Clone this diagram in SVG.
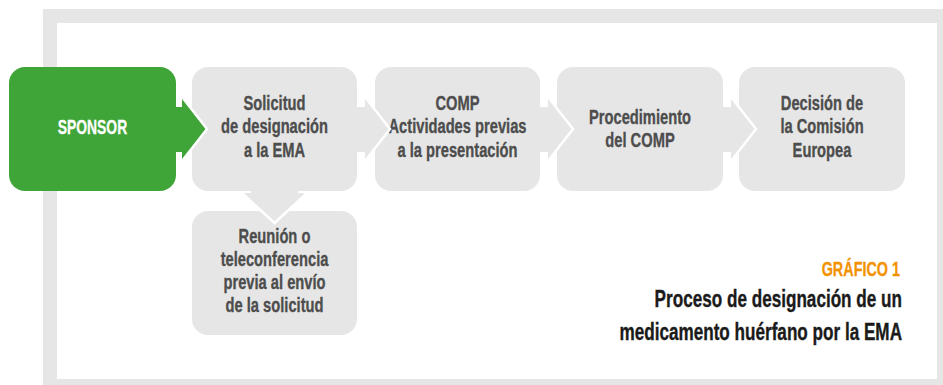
<svg xmlns="http://www.w3.org/2000/svg" width="943" height="385" viewBox="0 0 943 385">
<style>
.box{fill:#e6e6e6}
.green{fill:#40a538}
.bt{font-family:"Liberation Sans",Arial,sans-serif;font-weight:bold;font-size:21px;fill:#4d4d4d;stroke:#4d4d4d;stroke-width:0.35;text-anchor:middle}
.wt{font-family:"Liberation Sans",Arial,sans-serif;font-weight:bold;font-size:21px;fill:#ffffff;stroke:#ffffff;stroke-width:0.35;text-anchor:middle}
.ttl{font-family:"Liberation Sans",Arial,sans-serif;font-weight:bold;font-size:23px;fill:#1a1a1a;stroke:#1a1a1a;stroke-width:0.35;text-anchor:end}
.gr{font-family:"Liberation Sans",Arial,sans-serif;font-weight:bold;font-size:20px;fill:#f39200;stroke:#f39200;stroke-width:0.3;text-anchor:end}
.edge{fill:none;stroke:#ffffff;stroke-width:2.5;stroke-linejoin:miter}
</style>
<rect x="50" y="16" width="894" height="370" fill="#ffffff" stroke="#e6e6e6" stroke-width="14"/>
<g id="nodes">
<g id="sponsor">
<rect class="green" x="9" y="67" width="167" height="124" rx="16"/>
<text class="wt" transform="translate(92.5,0) scale(0.66,1)" x="0" y="134">SPONSOR</text>
</g>
<g id="solicitud">
<rect class="box" x="192" y="67" width="165" height="124" rx="16"/>
<text class="bt" transform="translate(274.5,0) scale(0.7,1)" x="0" y="110">Solicitud</text>
<text class="bt" transform="translate(274.5,0) scale(0.7,1)" x="0" y="133.5">de designación</text>
<text class="bt" transform="translate(274.5,0) scale(0.7,1)" x="0" y="157">a la EMA</text>
</g>
<g id="comp">
<rect class="box" x="375" y="67" width="165" height="124" rx="16"/>
<text class="bt" transform="translate(457.5,0) scale(0.7,1)" x="0" y="110">COMP</text>
<text class="bt" transform="translate(457.5,0) scale(0.7,1)" x="0" y="133.5">Actividades previas</text>
<text class="bt" transform="translate(457.5,0) scale(0.7,1)" x="0" y="157">a la presentación</text>
</g>
<g id="procedimiento">
<rect class="box" x="557" y="67" width="166" height="124" rx="16"/>
<text class="bt" transform="translate(640,0) scale(0.7,1)" x="0" y="124">Procedimiento</text>
<text class="bt" transform="translate(640,0) scale(0.7,1)" x="0" y="147">del COMP</text>
</g>
<g id="decision">
<rect class="box" x="739" y="67" width="166" height="124" rx="16"/>
<text class="bt" transform="translate(822,0) scale(0.7,1)" x="0" y="110">Decisión de</text>
<text class="bt" transform="translate(822,0) scale(0.7,1)" x="0" y="133.5">la Comisión</text>
<text class="bt" transform="translate(822,0) scale(0.7,1)" x="0" y="157">Europea</text>
</g>
<g id="reunion">
<rect class="box" x="192" y="211" width="165" height="124" rx="16"/>
<text class="bt" transform="translate(274.5,0) scale(0.7,1)" x="0" y="243">Reunión o</text>
<text class="bt" transform="translate(274.5,0) scale(0.7,1)" x="0" y="266">teleconferencia</text>
<text class="bt" transform="translate(274.5,0) scale(0.7,1)" x="0" y="289">previa al envío</text>
<text class="bt" transform="translate(274.5,0) scale(0.7,1)" x="0" y="312">de la solicitud</text>
</g>
</g>
<g id="connectors">
<polygon class="green" points="175,107 182,107 182,97 207,129 182,161 182,152 175,152"/>
<polyline class="edge" points="182,97 207,129 182,161"/>
<polygon class="box" points="356,107 365,107 365,97 390,129 365,161 365,152 356,152"/>
<polyline class="edge" points="365,97 390,129 365,161"/>
<polygon class="box" points="539,107 548,107 548,97 573,129 548,161 548,152 539,152"/>
<polyline class="edge" points="548,97 573,129 548,161"/>
<polygon class="box" points="722,107 731,107 731,97 756,129 731,161 731,152 722,152"/>
<polyline class="edge" points="731,97 756,129 731,161"/>
<polygon class="box" points="251,190 298,190 298,193 307,193 274.5,223 242,193 251,193"/>
<polyline class="edge" points="242,193 274.5,223 307,193"/>
</g>
<g id="caption">
<text class="gr" transform="translate(900,0) scale(0.72,1)" x="0" y="276">GRÁFICO 1</text>
<text class="ttl" transform="translate(902,0) scale(0.745,1)" x="0" y="307">Proceso de designación de un</text>
<text class="ttl" transform="translate(902,0) scale(0.745,1)" x="0" y="340">medicamento huérfano por la EMA</text>
</g>
</svg>
